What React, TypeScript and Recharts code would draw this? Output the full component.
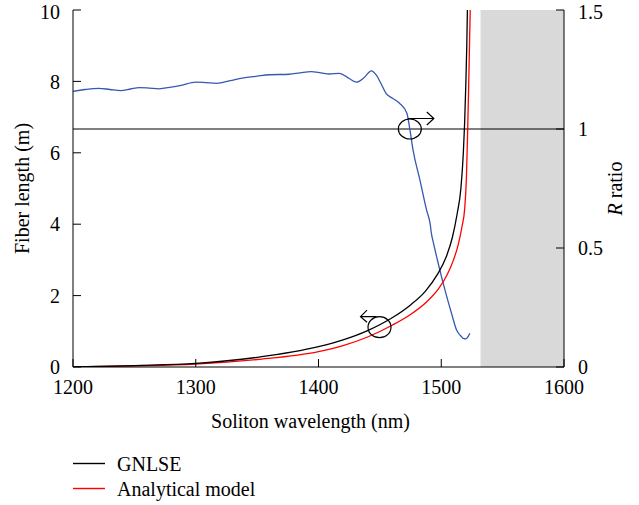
import { ComposedChart, Line, XAxis, YAxis, ReferenceArea, ReferenceLine, ReferenceDot, Label } from 'recharts'

const FONT = "'Liberation Serif', 'DejaVu Serif', serif"

const wavelengthTicks = [1200, 1300, 1400, 1500, 1600]
const lengthTicks = [0, 2, 4, 6, 8, 10]
const ratioTicks = [0, 0.5, 1, 1.5]

// [wavelength nm, fiber length m]
const gnlse = [
  [1200, 0], [1250, 0.04], [1300, 0.1], [1350, 0.27], [1400, 0.57], [1420, 0.76],
  [1440, 1.02], [1460, 1.38], [1475, 1.74], [1487, 2.12], [1497, 2.6], [1504, 3.08],
  [1509, 3.62], [1513, 4.3], [1516, 5.0], [1518, 6.0], [1519, 6.8], [1520, 7.9],
  [1520.8, 9.0], [1521.3, 10],
]

const analytical = [
  [1200, 0], [1250, 0.03], [1300, 0.08], [1350, 0.21], [1400, 0.43], [1420, 0.6],
  [1440, 0.84], [1460, 1.17], [1475, 1.47], [1488, 1.82], [1498, 2.2], [1505, 2.6],
  [1510, 3.0], [1514, 3.45], [1517, 3.95], [1519, 4.4], [1520.5, 5.3], [1521.5, 6.6],
  [1522.3, 7.8], [1523, 9.0], [1523.6, 10],
]

// [wavelength nm, R ratio]
const ratio = [
  [1200, 1.158], [1210, 1.166], [1221, 1.171], [1230, 1.166], [1239, 1.161], [1247, 1.168],
  [1254, 1.174], [1262, 1.172], [1270, 1.169], [1280, 1.176], [1287, 1.182], [1300, 1.197],
  [1308, 1.195], [1317, 1.192], [1328, 1.203], [1338, 1.214], [1350, 1.222], [1360, 1.228],
  [1376, 1.23], [1385, 1.236], [1394, 1.241], [1402, 1.236], [1409, 1.231], [1417, 1.234],
  [1425, 1.212], [1431, 1.197], [1437, 1.215], [1443, 1.244], [1447, 1.227], [1451, 1.19],
  [1455, 1.15], [1460, 1.13], [1466, 1.108], [1472, 1.066], [1474.5, 0.996], [1477, 0.912],
  [1482.6, 0.786], [1488, 0.66], [1491, 0.6], [1492, 0.56], [1493.4, 0.527], [1497.5, 0.436],
  [1503, 0.324], [1508.4, 0.225], [1512.5, 0.155], [1516.6, 0.127], [1518, 0.12],
  [1520, 0.118], [1521.5, 0.125], [1523.3, 0.142],
]

const shadeStart = 1532
const shadeEnd = 1600

const legendItems = [
  { name: 'GNLSE', color: '#000000' },
  { name: 'Analytical model', color: '#ff0000' },
]

const toData = (pairs: number[][]) => pairs.map(([w, v]) => ({ w, v }))

const tickStyle = { fontSize: 20, fill: '#000', fontFamily: FONT }

function RightMarker(p: any) {
  const { cx, cy } = p
  return (
    <g fill="none" stroke="#000" strokeWidth={1.2}>
      <ellipse cx={cx} cy={cy} rx={11.5} ry={10} />
      <path d={`M${cx - 2},${cy - 10.5} H${cx + 24} M${cx + 17},${cy - 17} L${cx + 24},${cy - 10.5} L${cx + 17},${cy - 4}`} />
    </g>
  )
}

function LeftMarker(p: any) {
  const { cx, cy } = p
  return (
    <g fill="none" stroke="#000" strokeWidth={1.2}>
      <ellipse cx={cx} cy={cy} rx={11.5} ry={10.5} />
      <path d={`M${cx - 3},${cy - 10.5} H${cx - 19} M${cx - 12.5},${cy - 17} L${cx - 19},${cy - 10.5} L${cx - 12.5},${cy - 5}`} />
    </g>
  )
}

export default function App() {
  return (
    <div style={{ position: 'absolute', left: 0, top: 0, width: 639, height: 505, background: '#fff', fontFamily: FONT }}>
      <ComposedChart width={639} height={505} margin={{ top: 10, right: 0, bottom: 98, left: 0 }}>
        <XAxis xAxisId="b" dataKey="w" type="number" domain={[1200, 1600]} ticks={wavelengthTicks}
          allowDataOverflow stroke="#000" tick={tickStyle} tickSize={-8} tickMargin={21} height={40}>
          <Label content={(props: any) => {
            const vb = props.viewBox
            return (
              <text x={vb.x + vb.width / 2 - 8} y={vb.y + 61} textAnchor="middle" fontSize={20} fontFamily={FONT} fill="#000">
                Soliton wavelength (nm)
              </text>
            )
          }} />
        </XAxis>
        <XAxis xAxisId="t" orientation="top" type="number" domain={[1200, 1600]} ticks={wavelengthTicks}
          allowDataOverflow stroke="#000" tickSize={-8} tickFormatter={() => ''} height={0} />
        <YAxis yAxisId="L" type="number" domain={[0, 10]} ticks={lengthTicks} allowDataOverflow
          stroke="#000" tick={tickStyle} tickSize={-8} tickMargin={21} width={73}>
          <Label content={(props: any) => {
            const vb = props.viewBox
            const cy = vb.y + vb.height / 2
            return (
              <text x={29} y={cy} transform={`rotate(-90, 29, ${cy})`} textAnchor="middle" fontSize={20} fontFamily={FONT} fill="#000">
                Fiber length (m)
              </text>
            )
          }} />
        </YAxis>
        <YAxis yAxisId="R" orientation="right" type="number" domain={[0, 1.5]} ticks={ratioTicks} allowDataOverflow
          stroke="#000" tick={tickStyle} tickSize={-8} tickMargin={22} width={75}>
          <Label content={(props: any) => {
            const vb = props.viewBox
            const cy = vb.y + vb.height / 2
            const x = vb.x + 58
            return (
              <text x={x} y={cy} transform={`rotate(-90, ${x}, ${cy})`} textAnchor="middle" fontSize={20} fontFamily={FONT} fill="#000">
                <tspan fontStyle="italic">R</tspan> ratio
              </text>
            )
          }} />
        </YAxis>

        <ReferenceArea xAxisId="b" yAxisId="L" x1={shadeStart} x2={shadeEnd} y1={0} y2={10}
          fill="#d9d9d9" fillOpacity={1} stroke="none" />
        <ReferenceLine xAxisId="b" yAxisId="R" y={1} stroke="#000" strokeWidth={1.2} />

        <Line xAxisId="b" yAxisId="R" data={toData(ratio)} dataKey="v" type="monotone"
          stroke="#3559b0" strokeWidth={1.3} dot={false} isAnimationActive={false} />
        <Line xAxisId="b" yAxisId="L" data={toData(analytical)} dataKey="v" type="monotone"
          stroke="#ff0000" strokeWidth={1.3} dot={false} isAnimationActive={false} />
        <Line xAxisId="b" yAxisId="L" data={toData(gnlse)} dataKey="v" type="monotone"
          stroke="#000000" strokeWidth={1.3} dot={false} isAnimationActive={false} />

        <ReferenceDot xAxisId="b" yAxisId="R" x={1474.4} y={1} shape={RightMarker} />
        <ReferenceDot xAxisId="b" yAxisId="L" x={1449.7} y={1.115} shape={LeftMarker} />
      </ComposedChart>

      <svg width={639} height={505} style={{ position: 'absolute', left: 0, top: 0, pointerEvents: 'none' }}>
        {legendItems.map((item, i) => (
          <g key={item.name}>
            <line x1={73} x2={105} y1={463.5 + i * 25} y2={463.5 + i * 25} stroke={item.color} strokeWidth={1.4} />
            <text x={117} y={471 + i * 25} fontSize={20} fontFamily={FONT} fill="#000">{item.name}</text>
          </g>
        ))}
      </svg>
    </div>
  )
}
